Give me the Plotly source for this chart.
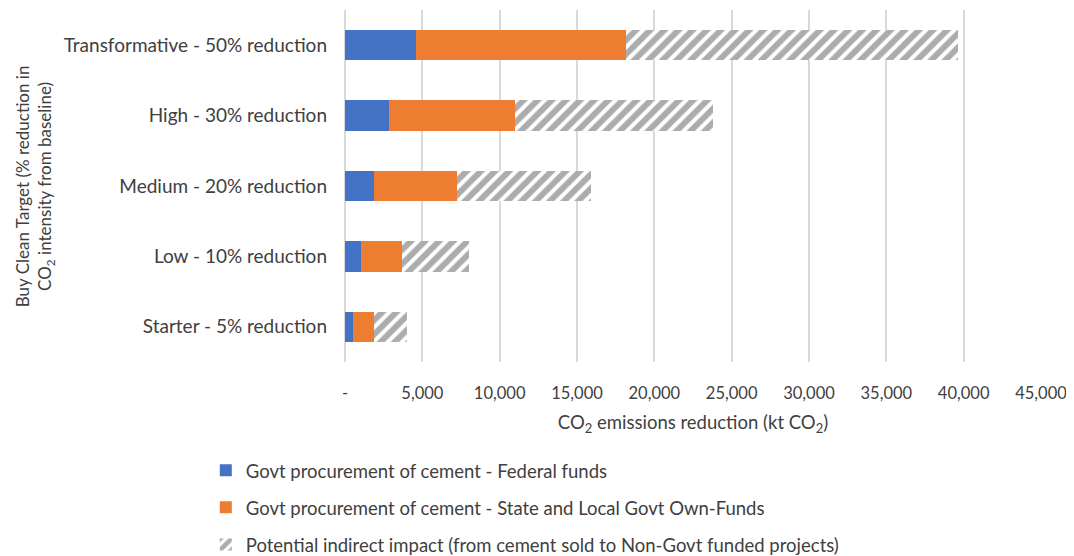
import plotly.graph_objects as go

categories = [
    "Starter - 5% reduction",
    "Low - 10% reduction",
    "Medium - 20% reduction",
    "High - 30% reduction",
    "Transformative - 50% reduction",
]
federal = [540, 1035, 1880, 2850, 4590]
state_local = [1340, 2655, 5360, 8150, 13590]
indirect = [2120, 4310, 8670, 12800, 21470]

tick_vals = [0, 5000, 10000, 15000, 20000, 25000, 30000, 35000, 40000, 45000]
tick_text = ["-", "5,000", "10,000", "15,000", "20,000", "25,000",
             "30,000", "35,000", "40,000", "45,000"]

FONT = "Lato, Open Sans, sans-serif"

fig = go.Figure()
fig.add_trace(go.Bar(
    y=categories, x=federal, orientation="h",
    name="Govt procurement of cement - Federal funds",
    marker=dict(color="#4472C4", line=dict(width=0)),
    legendgroup="a",
))
fig.add_trace(go.Bar(
    y=categories, x=state_local, orientation="h",
    name="Govt procurement of cement - State and Local Govt Own-Funds",
    marker=dict(color="#ED7D31", line=dict(width=0)),
    legendgroup="b",
))
fig.add_trace(go.Bar(
    y=categories, x=indirect, orientation="h",
    name="Potential indirect impact (from cement sold to Non-Govt funded projects)",
    marker=dict(
        color="white",
        line=dict(width=0),
        pattern=dict(shape="/", fgcolor="#5a5a5a", bgcolor="white",
                     size=10, solidity=0.6, fillmode="overlay"),
    ),
    legendgroup="c",
))

# the page body adds an 8px margin, so the figure is 8px smaller than the window
fig.update_layout(
    barmode="stack",
    bargap=0.57,
    width=1066, height=548,
    margin=dict(l=337, r=33, t=2, b=194, autoexpand=False),
    plot_bgcolor="white", paper_bgcolor="white",
    font=dict(family=FONT, size=17, color="#404040"),
    showlegend=True,
    legend=dict(
        orientation="v", x=-0.2, xanchor="left", y=-0.255, yanchor="top",
        font=dict(size=18.5, color="#404040"), tracegroupgap=10,
        itemsizing="constant",
    ),
    xaxis=dict(
        range=[0, 45000], tickvals=tick_vals, ticktext=tick_text,
        showgrid=True, gridcolor="#d9d9d9", gridwidth=1.5,
        zeroline=True, zerolinecolor="#d9d9d9", zerolinewidth=1.5,
        showline=False, ticks="", ticklabelstandoff=19,
        tickfont=dict(size=16.5),
        automargin=False,
        title=dict(text="CO<sub>2</sub> emissions reduction (kt CO<sub>2</sub>)",
                   font=dict(size=18.5), standoff=14),
    ),
    yaxis=dict(
        showgrid=False, showline=False, ticks="", ticklabelstandoff=17,
        tickfont=dict(size=19), automargin=False,
    ),
    annotations=[dict(
        text="Buy Clean Target (% reduction in<br>CO<sub>2</sub> intensity from baseline)",
        textangle=-90, xref="paper", yref="paper",
        x=-0.445, y=0.5, xanchor="center", yanchor="middle",
        showarrow=False, font=dict(size=17, color="#404040"),
    )],
)

fig.write_html("out.html")
